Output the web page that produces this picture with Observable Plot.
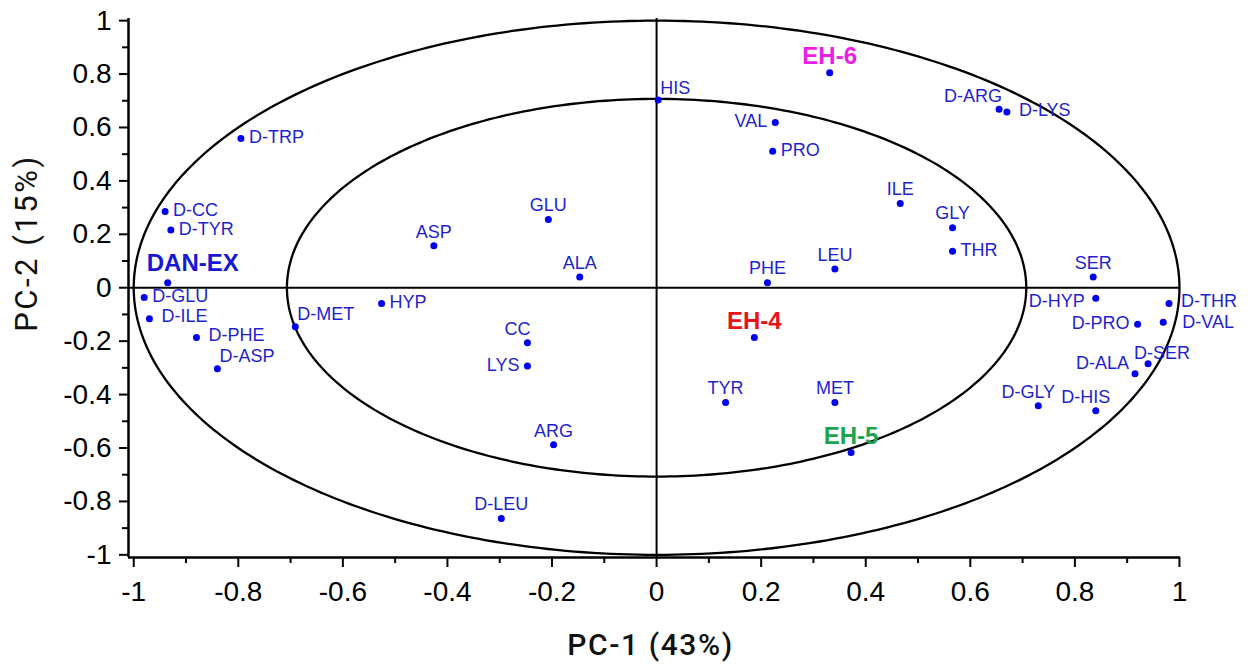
<!DOCTYPE html>
<html>
<head>
<meta charset="utf-8">
<script src="https://cdn.jsdelivr.net/npm/d3@7"></script>
<script src="https://cdn.jsdelivr.net/npm/@observablehq/plot@0.6"></script>
<style>
  html, body { margin: 0; padding: 0; background: #fff; }
</style>
</head>
<body>
<div id="chart"></div>
<script>
// Correlation loadings on the first two principal components
const names = [
  "HIS", "EH-6", "D-ARG", "D-LYS", "D-TRP", "VAL", "PRO", "ILE", "GLY", "THR",
  "LEU", "SER", "D-HYP", "D-THR", "D-VAL", "D-PRO", "D-SER", "D-ALA", "D-GLY", "D-HIS",
  "MET", "EH-5", "TYR", "EH-4", "CC", "LYS", "ARG", "D-LEU", "GLU", "ASP",
  "ALA", "PHE", "HYP", "D-MET", "D-PHE", "D-ASP", "D-ILE", "D-GLU", "DAN-EX", "D-CC",
  "D-TYR"
];
const pc1 = [
  0.003, 0.331, 0.655, 0.670, -0.795, 0.227, 0.222, 0.466, 0.566, 0.566,
  0.341, 0.835, 0.840, 0.980, 0.969, 0.920, 0.940, 0.915, 0.730, 0.840,
  0.341, 0.372, 0.132, 0.187, -0.247, -0.247, -0.197, -0.297, -0.207, -0.426,
  -0.147, 0.212, -0.526, -0.691, -0.880, -0.840, -0.970, -0.980, -0.935, -0.940,
  -0.929
];
const pc2 = [
  0.703, 0.805, 0.668, 0.658, 0.559, 0.619, 0.511, 0.315, 0.225, 0.137,
  0.070, 0.040, -0.039, -0.059, -0.129, -0.137, -0.285, -0.322, -0.442, -0.461,
  -0.430, -0.617, -0.430, -0.186, -0.206, -0.293, -0.588, -0.864, 0.255, 0.157,
  0.040, 0.019, -0.059, -0.146, -0.186, -0.303, -0.116, -0.037, 0.019, 0.285,
  0.216
];
// Where each label sits relative to its point
const labelSide = [
  "ne", "n", "nw", "e2", "e", "w", "e", "n", "n", "e",
  "n", "n", "w2", "e2", "e3", "w", "nr", "nw2", "nl", "nl",
  "n", "n", "n", "n", "nl", "w", "n", "n", "n", "n",
  "n", "n", "e", "ne", "e2", "ne", "e2", "e", "nR", "e",
  "e"
];

// Samples, labelled in bold with their own colour
const sampleNames = ["DAN-EX", "EH-4", "EH-5", "EH-6"];
const sampleColors = ["#1717d6", "#e8141b", "#1ea44f", "#ec1fe6"];

// Axis ticks and the two reference circles (100% and 50% explained variance)
const majorTicks = [-1, -0.8, -0.6, -0.4, -0.2, 0, 0.2, 0.4, 0.6, 0.8, 1];
const minorTicks = [-0.9, -0.7, -0.5, -0.3, -0.1, 0.1, 0.3, 0.5, 0.7, 0.9];
const radii = [1, 0.707];

const xTitle = "PC-1 (43%)";
const yTitle = "PC-2 (15%)";

const rows = names.map((name, i) => {
  const s = sampleNames.indexOf(name);
  return {name, x: pc1[i], y: pc2[i], side: labelSide[i], sample: s >= 0, color: s >= 0 ? sampleColors[s] : null};
});

const sideOffset = {
  n:   ["middle", 0, -14],
  nl:  ["middle", -10, -14],
  nr:  ["middle", 14, -11],
  ne:  ["start", 2, -12],
  nw:  ["end", 3, -13],
  nw2: ["end", -6, -11],
  e:   ["start", 8, -1],
  e2:  ["start", 12, -2],
  e3:  ["start", 19, 0],
  w:   ["end", -8, -1],
  w2:  ["end", -11, 3],
  nR:  ["start", -21, -17]
};

// Circle outlines sampled around the full turn
const circles = radii.flatMap((r, k) =>
  d3.range(0, 361).map(a => ({k, x: r * Math.cos(a * Math.PI / 180), y: r * Math.sin(a * Math.PI / 180)}))
);

const xDomain = [-1.01, 1.002];
const yDomain = [-1.01, 1.008];
const fmt = d => `${+d.toFixed(1)}`;
const sans = "Liberation Sans, Arial, sans-serif";
const tickFont = 28;

const labelMarks = Object.entries(sideOffset).flatMap(([code, [anchor, dx, dy]]) => [
  Plot.text(rows.filter(d => d.side === code && !d.sample), {
    x: "x", y: "y", text: "name", textAnchor: anchor, dx, dy,
    fill: "#1f1fcf", fontSize: 18, fontFamily: sans
  }),
  Plot.text(rows.filter(d => d.side === code && d.sample), {
    x: "x", y: "y", text: "name", textAnchor: anchor, dx, dy: dy - 2,
    fill: "color", fontSize: 24, fontWeight: "bold", fontFamily: sans
  })
]);

const chart = Plot.plot({
  width: 1248,
  height: 665,
  marginLeft: 128,
  marginRight: 68,
  marginTop: 18,
  marginBottom: 108,
  style: {fontFamily: sans, background: "#fff", color: "#000"},
  x: {domain: xDomain, label: null},
  y: {domain: yDomain, label: null},
  color: {type: "identity"},
  marks: [
    Plot.line(circles, {x: "x", y: "y", z: "k", stroke: "#000", strokeWidth: 2.3}),
    Plot.ruleX([0], {stroke: "#000", strokeWidth: 2}),
    Plot.ruleY([0], {stroke: "#000", strokeWidth: 2}),
    Plot.ruleX([xDomain[0]], {stroke: "#000", strokeWidth: 2.5}),
    Plot.ruleY([yDomain[0]], {stroke: "#000", strokeWidth: 2.5}),
    Plot.axisX(majorTicks, {tickSize: 10, tickPadding: 14, tickFormat: fmt, fontSize: tickFont, strokeWidth: 2, label: null}),
    Plot.axisX(minorTicks, {tickSize: 6, tickFormat: () => "", strokeWidth: 2, label: null}),
    Plot.axisY(majorTicks, {tickSize: 9, tickPadding: 8, tickFormat: fmt, fontSize: tickFont, strokeWidth: 2, label: null}),
    Plot.axisY(minorTicks, {tickSize: 6, tickFormat: () => "", strokeWidth: 2, label: null}),
    Plot.dot(rows, {x: "x", y: "y", r: 3.5, fill: "#0000ee", stroke: null}),
    ...labelMarks,
    Plot.text([xTitle], {
      text: d => d, frameAnchor: "bottom", textAnchor: "middle", lineAnchor: "middle", dx: -4, dy: 88,
      fontSize: 30, fontWeight: 500, fontFamily: "Roboto, sans-serif", fill: "#111"
    }),
    Plot.text([yTitle], {
      text: d => d, frameAnchor: "left", textAnchor: "middle", lineAnchor: "middle", rotate: -90, dx: -101, dy: -45,
      fontSize: 31, fontWeight: 400, fontFamily: "Roboto, sans-serif", fill: "#111"
    })
  ]
});

// Tick labels at the same size on both axes
d3.select(chart).selectAll('g[aria-label$="tick label"]')
  .attr("font-size", tickFont)
  .style("font-size", `${tickFont}px`)
  .selectAll("text").attr("font-size", tickFont);

d3.select(chart).selectAll("text")
  .filter(function () { return this.textContent === xTitle; })
  .style("letter-spacing", "1.6px");
d3.select(chart).selectAll("text")
  .filter(function () { return this.textContent === yTitle; })
  .style("letter-spacing", "2.5px");

document.getElementById("chart").append(chart);
</script>
</body>
</html>
